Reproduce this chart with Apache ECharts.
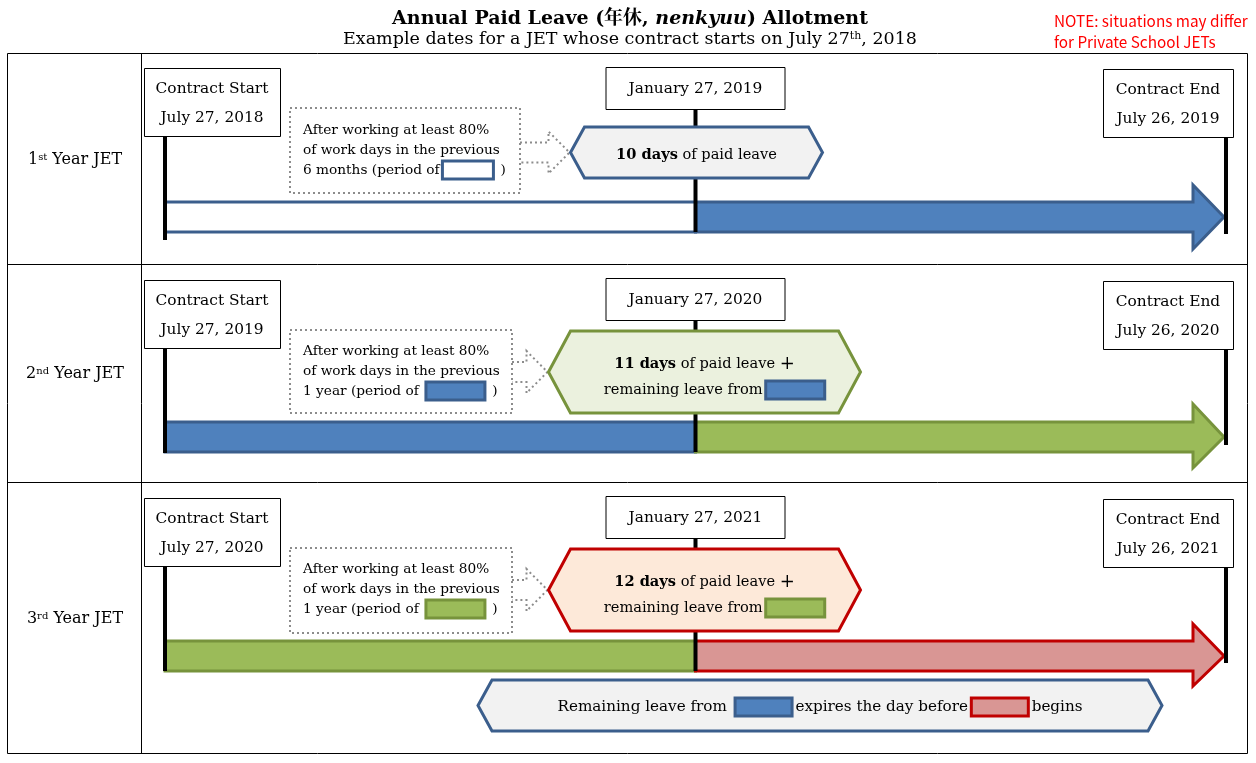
<!DOCTYPE html>
<html>
<head>
<meta charset="utf-8">
<script src="https://cdn.jsdelivr.net/npm/echarts@6/dist/echarts.min.js"></script>
<style>html,body{margin:0;padding:0;background:#fff}#main{width:1256px;height:763px}</style>
</head>
<body>
<div id="main"></div>
<script>
// 数据：每一行代表一个合同年度
var rowNumber = ['1', '2', '3'];
var rowSuffix = ['st', 'nd', 'rd'];
var startDates = ['July 27, 2018', 'July 27, 2019', 'July 27, 2020'];
var midDates = ['January 27, 2019', 'January 27, 2020', 'January 27, 2021'];
var endDates = ['July 26, 2019', 'July 26, 2020', 'July 26, 2021'];
var leaveDays = [10, 11, 12];
var qualifyPeriod = ['6 months', '1 year', '1 year'];
var carriedOver = [false, true, true];
var milestoneMonths = [0, 6, 12]; // 合同开始后的月数

// 样式
var FONT = "'DejaVu Serif', 'Noto Serif CJK JP', 'Noto Sans CJK JP', serif";
var BOX_FS = 15.4, DOT_FS = 13.7, HEX_FS = 14.6;
var periodStyle = [
    {fill: '#ffffff', stroke: '#3b5e8c'},
    {fill: '#4f81bd', stroke: '#3b5e8c'},
    {fill: '#9bbb59', stroke: '#77933c'},
    {fill: '#d99694', stroke: '#c00000'}
];
var hexStyle = [
    {fill: '#f2f2f2', stroke: '#3b5e8c'},
    {fill: '#ebf1de', stroke: '#77933c'},
    {fill: '#fde9d9', stroke: '#c00000'}
];
// 布局（像素）
var rowLayout = [
    {labelY: 160, boxTop: 68, janTop: 67, dotTop: 108, dotBot: 193, dotW: 230, hexL: -125, hexR: 127, hexTop: 127, hexBot: 178, hexDx: 14, textY: [155], barTop: 202, barBot: 232, headTop: 185, headBot: 249, startBot: 240, endBot: 234},
    {labelY: 374, boxTop: 280, janTop: 278, dotTop: 330, dotBot: 413, dotW: 222, hexL: -147, hexR: 165, hexTop: 331, hexBot: 413, hexDx: 22, textY: [364, 390], barTop: 422, barBot: 452, headTop: 404, headBot: 468, startBot: 453, endBot: 445},
    {labelY: 619, boxTop: 498, janTop: 496, dotTop: 548, dotBot: 633, dotW: 222, hexL: -147, hexR: 165, hexTop: 549, hexBot: 631, hexDx: 22, textY: [582, 608], barTop: 641, barBot: 671, headTop: 624, headBot: 686, startBot: 671, endBot: 663}
];

function rt(size, o) {
    var s = {fontFamily: FONT, fontSize: size, fill: '#000'};
    for (var k in o) s[k] = o[k];
    return s;
}
function inlineBox(st, w) {
    return {width: w, height: 15, backgroundColor: st.fill, borderColor: st.stroke, borderWidth: 3};
}
function text(x, y, str, size, rich, extra) {
    var st = {text: str, fontFamily: FONT, fontSize: size, fill: '#000', align: 'center', verticalAlign: 'middle', rich: rich || {}};
    for (var k in extra) st[k] = extra[k];
    return {type: 'text', x: x, y: y, style: st, silent: true};
}
function box(x, y, w, h) {
    return {type: 'rect', shape: {x: x + 0.5, y: y + 0.5, width: w, height: h}, style: {fill: '#fff', stroke: '#000', lineWidth: 1}};
}
function vline(x, y1, y2) {
    return {type: 'line', shape: {x1: x, y1: y1, x2: x, y2: y2}, style: {stroke: '#000', lineWidth: 4}};
}
function hexagon(l, r, t, b, dx, st) {
    var cy = (t + b) / 2;
    return {type: 'polygon', shape: {points: [[l, cy], [l + dx, t], [r - dx, t], [r, cy], [r - dx, b], [l + dx, b]]},
        style: {fill: st.fill, stroke: st.stroke, lineWidth: 3}};
}

function renderRow(params, api) {
    var i = api.value(0);
    var L = rowLayout[i];
    var x0 = api.coord([milestoneMonths[0], 0])[0];
    var xm = api.coord([milestoneMonths[1], 0])[0];
    var x1 = api.coord([milestoneMonths[2], 0])[0];
    var left = periodStyle[i], right = periodStyle[i + 1], hs = hexStyle[i];
    var cy = (L.barTop + L.barBot) / 2;
    var tip = x1 - 2, headX = tip - 31;
    var c = [];

    // 期间条
    c.push({type: 'rect', shape: {x: x0, y: L.barTop, width: xm - x0, height: L.barBot - L.barTop},
        style: {fill: left.fill, stroke: left.stroke, lineWidth: 3}});
    c.push({type: 'polygon', shape: {points: [[xm, L.barTop], [headX, L.barTop], [headX, L.headTop], [tip, cy],
            [headX, L.headBot], [headX, L.barBot], [xm, L.barBot]]},
        style: {fill: right.fill, stroke: right.stroke, lineWidth: 3}});

    // 时间节点竖线
    c.push(vline(x0, L.boxTop + 68, L.startBot));
    c.push(vline(xm, L.janTop + 42, L.barBot));
    c.push(vline(x1, L.boxTop + 69, L.endBot));

    // 日期框
    c.push(box(x0 - 21, L.boxTop, 136, 68));
    c.push(text(x0 + 47, L.boxTop + 21, 'Contract Start', BOX_FS));
    c.push(text(x0 + 47, L.boxTop + 50, startDates[i], BOX_FS));
    c.push(box(xm - 90, L.janTop, 179, 42));
    c.push(text(xm, L.janTop + 22, midDates[i], BOX_FS));
    c.push(box(x1 - 123, L.boxTop + 1, 130, 68));
    c.push(text(x1 - 58, L.boxTop + 22, 'Contract End', BOX_FS));
    c.push(text(x1 - 58, L.boxTop + 51, endDates[i], BOX_FS));

    // 虚线说明框 + 箭头
    var dl = x0 + 125, dr = dl + L.dotW, hl = xm + L.hexL, hr = xm + L.hexR;
    var dcy = (L.hexTop + L.hexBot) / 2;
    var dash = {stroke: '#8c8c8c', lineWidth: 2, lineDash: [2, 3], fill: null};
    c.push({type: 'rect', shape: {x: dl, y: L.dotTop, width: L.dotW, height: L.dotBot - L.dotTop}, style: dash});
    c.push({type: 'polyline', shape: {points: [[dr, dcy - 10], [hl - 22, dcy - 10], [hl - 22, dcy - 21], [hl - 1, dcy],
        [hl - 22, dcy + 21], [hl - 22, dcy + 10], [dr, dcy + 10]]}, style: dash});
    var ty = L.dotTop + (i === 0 ? 22 : 21);
    c.push(text(dl + 13, ty, 'After working at least 80%', DOT_FS, null, {align: 'left'}));
    c.push(text(dl + 13, ty + 20, 'of work days in the previous', DOT_FS, null, {align: 'left'}));
    c.push(text(dl + 13, ty + 40, '{t|' + qualifyPeriod[i] + ' (period of ' + (i ? ' ' : '') + '}{b| }{t|  )}', DOT_FS,
        {t: rt(DOT_FS), b: inlineBox(periodStyle[i], i ? 56 : 48)}, {align: 'left'}));

    // 六角形：年假天数
    c.push(hexagon(hl, hr, L.hexTop, L.hexBot, L.hexDx, hs));
    var hcx = (hl + hr) / 2;
    if (!carriedOver[i]) {
        c.push(text(hcx, L.textY[0], '{b|' + leaveDays[i] + ' days}{t| of paid leave}', HEX_FS,
            {b: rt(HEX_FS, {fontWeight: 'bold'}), t: rt(HEX_FS)}));
    } else {
        c.push(text(hcx, L.textY[0], '{b|' + leaveDays[i] + ' days}{t| of paid leave }{p|+}', HEX_FS,
            {b: rt(HEX_FS, {fontWeight: 'bold'}), t: rt(HEX_FS), p: rt(18)}));
        c.push(text(hcx + 9, L.textY[1], '{t|remaining leave from }{b| }', HEX_FS,
            {t: rt(HEX_FS), b: inlineBox(periodStyle[i], 56)}));
    }
    return {type: 'group', children: c};
}

var chart = echarts.init(document.getElementById('main'));
var noteFont = {align: 'left', fill: '#ff0000', fontFamily: "'Noto Sans CJK JP', sans-serif"};
var graphic = [
    // 表格
    {type: 'rect', shape: {x: 7.5, y: 53.5, width: 1240, height: 700}, style: {fill: null, stroke: '#000', lineWidth: 1}},
    {type: 'line', shape: {x1: 141.5, y1: 53, x2: 141.5, y2: 754}, style: {stroke: '#000', lineWidth: 1}},
    {type: 'line', shape: {x1: 7, y1: 264.5, x2: 1248, y2: 264.5}, style: {stroke: '#000', lineWidth: 1}},
    {type: 'line', shape: {x1: 7, y1: 482.5, x2: 1248, y2: 482.5}, style: {stroke: '#000', lineWidth: 1}},
    // 标题
    text(630, 19, '{b|Annual Paid Leave (年休, }{i|nenkyuu}{b|) Allotment}', 19,
        {b: rt(19, {fontWeight: 'bold'}), i: rt(19, {fontWeight: 'bold', fontStyle: 'italic'})}),
    text(630, 39, '{t|Example dates for a JET whose contract starts on July 27}{s|th}{t|, 2018}', 17.5,
        {t: rt(17.5), s: rt(11, {verticalAlign: 'top'})}),
    text(1054, 21, 'NOTE: situations may differ', 15.3, null, noteFont),
    text(1054, 42, 'for Private School JETs', 15.3, null, noteFont),
    // 底部说明
    hexagon(478, 1162, 680, 731, 14, hexStyle[0]),
    text(820, 707, '{t|Remaining leave from  }{a| }{t| expires the day before }{p| }{t| begins}', 15.2,
        {t: rt(15.2), a: inlineBox(periodStyle[1], 54), p: inlineBox(periodStyle[3], 54)})
];
for (var r = 0; r < 3; r++) {
    graphic.push(text(75, rowLayout[r].labelY, '{n|' + rowNumber[r] + '}{s|' + rowSuffix[r] + '}{n| Year JET}', 16,
        {n: rt(16), s: rt(10, {verticalAlign: 'top'})}));
}

chart.setOption({
    animation: false,
    grid: {left: 165, right: 30, top: 53, bottom: 9},
    xAxis: {type: 'value', min: 0, max: 12, show: false},
    yAxis: {type: 'value', min: 0, max: 1, show: false},
    graphic: graphic,
    series: [{
        type: 'custom',
        silent: true,
        renderItem: renderRow,
        data: [[0], [1], [2]]
    }]
});
</script>
</body>
</html>
